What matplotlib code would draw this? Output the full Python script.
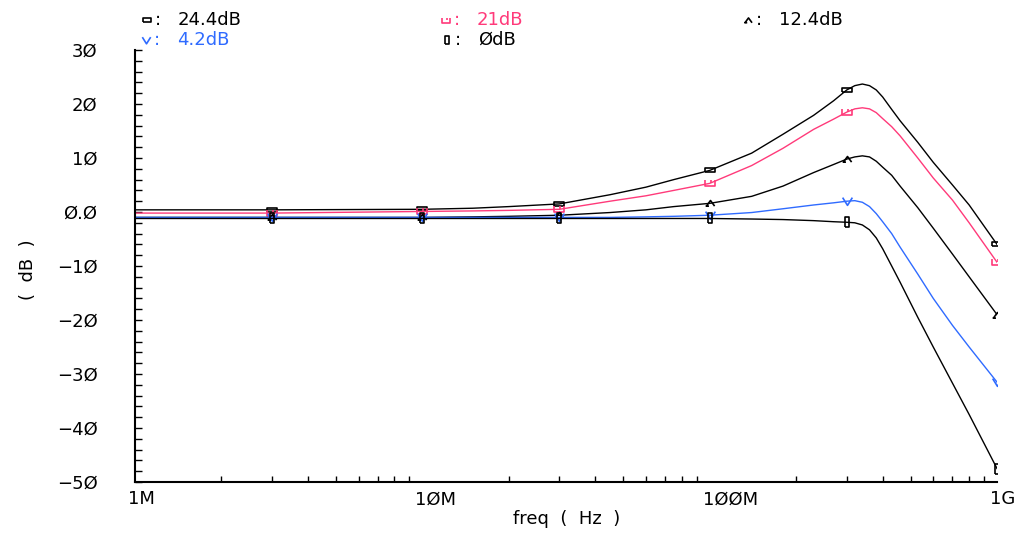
import matplotlib
matplotlib.use("Agg")
import matplotlib.pyplot as plt
from matplotlib.path import Path
from matplotlib.lines import Line2D
from matplotlib.ticker import FixedLocator, FixedFormatter, LogLocator, NullFormatter
import matplotlib.transforms as mtransforms

plt.rcParams['font.family'] = ['DejaVu Sans']

# frequency points (Hz)
freq = [1e6, 3e6, 10e6, 15e6, 20e6, 30e6, 45e6, 60e6, 75e6, 100e6, 140e6, 180e6,
        230e6, 270e6, 300e6, 320e6, 340e6, 360e6, 380e6, 400e6, 430e6, 460e6,
        530e6, 600e6, 700e6, 800e6, 1e9]

# gain curves (dB), one per boost setting
g_24p4 = [0.4, 0.4, 0.5, 0.7, 1.0, 1.5, 3.2, 4.6, 6.0, 7.7, 10.9, 14.4,
          17.9, 20.6, 22.6, 23.4, 23.7, 23.4, 22.6, 21.3, 19.0, 16.9,
          12.9, 9.2, 5.0, 1.3, -6.0]
g_21 = [-0.2, -0.2, 0.1, 0.2, 0.3, 0.5, 2.0, 3.0, 4.0, 5.3, 8.6, 11.8,
        15.3, 17.2, 18.5, 19.1, 19.3, 19.1, 18.4, 17.3, 15.8, 14.1,
        10.0, 6.3, 2.2, -2.0, -9.3]
g_12p4 = [-1.0, -1.0, -1.0, -0.9, -0.8, -0.6, -0.1, 0.4, 1.0, 1.6, 2.9, 4.8,
          7.3, 8.8, 9.8, 10.2, 10.4, 10.2, 9.4, 8.3, 6.8, 4.8,
          0.8, -3.0, -7.8, -12.0, -19.0]
g_4p2 = [-1.0, -1.0, -1.0, -1.0, -1.0, -1.0, -1.0, -0.9, -0.8, -0.6, -0.1, 0.6,
         1.3, 1.7, 2.0, 2.1, 1.8, 1.0, -0.3, -1.8, -4.0, -6.5,
         -11.5, -16.0, -21.0, -25.0, -31.5]
g_0 = [-1.2, -1.2, -1.2, -1.2, -1.2, -1.2, -1.2, -1.2, -1.2, -1.2, -1.3, -1.4,
       -1.6, -1.8, -1.9, -2.0, -2.4, -3.3, -4.8, -6.8, -10.0, -13.0,
       -19.5, -25.0, -31.7, -37.5, -47.5]

labels = ['24.4dB', '21dB', '12.4dB', '4.2dB', '\u00d8dB']
colors = ['black', '#ff3a7a', 'black', '#2f6bff', 'black']

ytick_vals = [-50, -40, -30, -20, -10, 0, 10, 20, 30]
ytick_text = ['\u22125\u00d8', '\u22124\u00d8', '\u22123\u00d8', '\u22122\u00d8', '\u22121\u00d8',
              '\u00d8.\u00d8', '1\u00d8', '2\u00d8', '3\u00d8']
xtick_vals = [1e6, 1e7, 1e8, 1e9]
xtick_text = ['1M', '1\u00d8M', '1\u00d8\u00d8M', '1G']

# marker shapes, cadence style
m_hrect = Path([(-1, -0.45), (1, -0.45), (1, 0.45), (-1, 0.45), (-1, -0.45)])
m_cup = Path([(-1, 0.6), (-1, -0.6), (1, -0.6), (1, 0.6), (0.3, 0.6), (0.3, 0)],
             [Path.MOVETO, Path.LINETO, Path.LINETO, Path.LINETO, Path.MOVETO, Path.LINETO])
m_tri = Path([(-1.1, -0.7), (0, 0.8), (1.1, -0.7), (-1.3, -0.7), (-0.4, -0.7)],
             [Path.MOVETO, Path.LINETO, Path.LINETO, Path.MOVETO, Path.LINETO])
m_vee = Path([(-1, 0.8), (0, -0.8), (1, 0.8)])
m_vrect = Path([(-0.45, -1), (0.45, -1), (0.45, 1), (-0.45, 1), (-0.45, -1)])
markers = [m_hrect, m_cup, m_tri, m_vee, m_vrect]
mark_freqs = [3e6, 10e6, 30e6, 100e6, 300e6, 1e9]
mark_idx = [freq.index(f) for f in mark_freqs]

fig = plt.figure(figsize=(10.18, 5.37), dpi=100)
ax = fig.add_axes([135 / 1018, 1 - 482 / 537, (997 - 135) / 1018, (482 - 50) / 537])

curves = [g_24p4, g_21, g_12p4, g_4p2, g_0]
for g, c, m in zip(curves, colors, markers):
    ax.plot(freq, g, color=c, lw=1.0, marker=m, markevery=mark_idx, ms=7,
            mfc='none', mec=c, mew=1.2)

ax.set_xscale('log')
ax.set_xlim(1e6, 1e9)
ax.set_ylim(-50, 30)
for s in ['top', 'right']:
    ax.spines[s].set_visible(False)
for s in ['left', 'bottom']:
    ax.spines[s].set_linewidth(1.5)

ax.yaxis.set_major_locator(FixedLocator(ytick_vals))
ax.yaxis.set_major_formatter(FixedFormatter(ytick_text))
ax.set_yticks(range(-50, 31, 2), minor=True)
ax.xaxis.set_major_locator(FixedLocator(xtick_vals))
ax.xaxis.set_major_formatter(FixedFormatter(xtick_text))
ax.xaxis.set_minor_locator(LogLocator(base=10, subs=range(2, 10)))
ax.xaxis.set_minor_formatter(NullFormatter())

ax.tick_params(axis='y', which='both', direction='in', length=5, width=1, pad=27, labelsize=13)
ax.tick_params(axis='x', which='major', direction='in', length=0, pad=6, labelsize=13)
ax.tick_params(axis='x', which='minor', direction='in', length=4, width=1)
shift = mtransforms.ScaledTranslation(-7 / 100, 0, fig.dpi_scale_trans)
for lab in ax.get_xticklabels():
    lab.set_horizontalalignment('left')
    lab.set_transform(lab.get_transform() + shift)

fig.text(567 / 1018, 1 - 519 / 537, 'freq  (  Hz  )', ha='center', va='center', fontsize=13)
fig.text(28 / 1018, 1 - 270 / 537, '(  dB  )', ha='center', va='center', rotation=90, fontsize=13)

# legend header
leg_pos = [(147, 20), (446, 20), (748, 20), (146, 40), (447, 40)]
for (px, py), lab, c, m in zip(leg_pos, labels, colors, markers):
    fig.add_artist(Line2D([px / 1018], [1 - py / 537], transform=fig.transFigure,
                          marker=m, ms=6, mfc='none', mec=c, mew=1.2, ls='none'))
    fig.text((px + 8) / 1018, 1 - py / 537, ':', color=c, fontsize=13, va='center')
    fig.text((px + 31) / 1018, 1 - py / 537, lab, color=c, fontsize=13, va='center')

fig.savefig('out.png', dpi=100)
